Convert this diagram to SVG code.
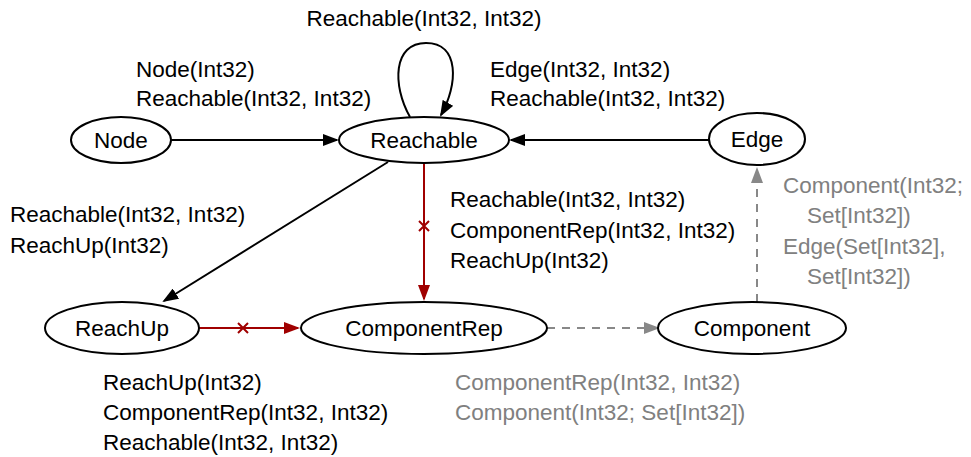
<svg xmlns="http://www.w3.org/2000/svg" width="971" height="457" viewBox="0 0 971 457">
<style>
text{font-family:"Liberation Sans",Arial,sans-serif;font-size:22.5px;fill:#000}
.g{fill:#808080}
.n ellipse{fill:#fff;stroke:#000;stroke-width:2}
.n text{text-anchor:middle}
.e{fill:none;stroke:#000;stroke-width:2}
.r{fill:none;stroke:#a00000;stroke-width:2}
.d{fill:none;stroke:#888;stroke-width:2;stroke-dasharray:8 7}
</style>
<defs>
<marker id="ab" markerUnits="userSpaceOnUse" markerWidth="16" markerHeight="12" refX="14" refY="6" orient="auto"><path d="M0,0L16,6L0,12z" fill="#000"/></marker>
<marker id="ar" markerUnits="userSpaceOnUse" markerWidth="16" markerHeight="12" refX="14" refY="6" orient="auto"><path d="M0,0L16,6L0,12z" fill="#a00000"/></marker>
<marker id="ag" markerUnits="userSpaceOnUse" markerWidth="16" markerHeight="12" refX="14" refY="6" orient="auto"><path d="M0,0L16,6L0,12z" fill="#888"/></marker>
</defs>
<g id="connectors">
<path class="e" d="M171,140H337" marker-end="url(#ab)"/>
<path class="e" d="M709,140H511" marker-end="url(#ab)"/>
<path class="e" d="M410,117C392,85 393,43 426,43C460,43 458,85 441,115" marker-end="url(#ab)"/>
<path class="e" d="M388,162L164,301" marker-end="url(#ab)"/>
<path class="r" d="M424,163V299" marker-end="url(#ar)"/>
<path class="r" d="M419,221l10,10M429,221l-10,10"/>
<path class="r" d="M199,328H298" marker-end="url(#ar)"/>
<path class="r" d="M238,323l10,10M248,323l-10,10"/>
<path class="d" d="M547,328H658" marker-end="url(#ag)"/>
<path class="d" d="M757,302V169" marker-end="url(#ag)"/>
</g>
<g id="node-Node" class="n"><ellipse cx="121" cy="140" rx="50" ry="23"/><text x="121" y="148">Node</text></g>
<g id="node-Reachable" class="n"><ellipse cx="424" cy="140" rx="85" ry="23"/><text x="424" y="148">Reachable</text></g>
<g id="node-Edge" class="n"><ellipse cx="757" cy="139" rx="48" ry="26"/><text x="757" y="147">Edge</text></g>
<g id="node-ReachUp" class="n"><ellipse cx="122" cy="328" rx="77" ry="26"/><text x="122" y="336">ReachUp</text></g>
<g id="node-ComponentRep" class="n"><ellipse cx="424" cy="328" rx="123" ry="26"/><text x="424" y="336">ComponentRep</text></g>
<g id="node-Component" class="n"><ellipse cx="752" cy="328" rx="94" ry="26"/><text x="752" y="336">Component</text></g>
<g id="labels">
<text x="424" y="26" text-anchor="middle">Reachable(Int32, Int32)</text>
<text x="136" y="77">Node(Int32)</text>
<text x="136" y="106">Reachable(Int32, Int32)</text>
<text x="490" y="77">Edge(Int32, Int32)</text>
<text x="490" y="106">Reachable(Int32, Int32)</text>
<text x="10" y="222">Reachable(Int32, Int32)</text>
<text x="10" y="253">ReachUp(Int32)</text>
<text x="450" y="207">Reachable(Int32, Int32)</text>
<text x="450" y="238">ComponentRep(Int32, Int32)</text>
<text x="450" y="268">ReachUp(Int32)</text>
<text class="g" x="783" y="193">Component(Int32;</text>
<text class="g" x="807" y="223">Set[Int32])</text>
<text class="g" x="783" y="254">Edge(Set[Int32],</text>
<text class="g" x="807" y="284">Set[Int32])</text>
<text x="103" y="390">ReachUp(Int32)</text>
<text x="103" y="420">ComponentRep(Int32, Int32)</text>
<text x="103" y="450">Reachable(Int32, Int32)</text>
<text class="g" x="455" y="390">ComponentRep(Int32, Int32)</text>
<text class="g" x="455" y="420">Component(Int32; Set[Int32])</text>
</g>
</svg>
